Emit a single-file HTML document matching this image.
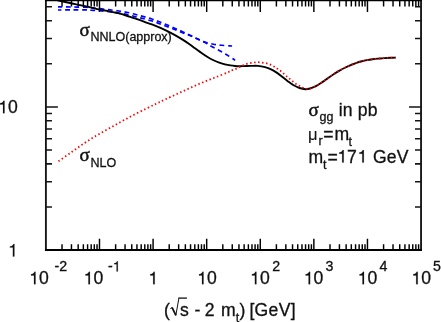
<!DOCTYPE html>
<html><head><meta charset="utf-8"><style>
html,body{margin:0;padding:0;background:#fff;}
#txt{filter:grayscale(1);}
svg{display:block;font-family:"Liberation Sans",sans-serif;fill:#111;}
text{stroke:#111;stroke-width:0.3px;}
</style></head><body>
<svg width="441" height="322" viewBox="0 0 441 322">
<rect width="441" height="322" fill="#fff"/>
<path d="M45.9 -0.7V251.0M421.05 -0.7V251.0" fill="none" stroke="#141414" stroke-width="1.85"/>
<path d="M44.98 0.3H421.97M44.98 250.0H421.97" fill="none" stroke="#000" stroke-width="1.95"/>
<path d="M62.03 250.0v-5.8M62.03 0.3v6.2 M71.47 250.0v-5.8M71.47 0.3v6.2 M78.17 250.0v-5.8M78.17 0.3v6.2 M83.36 250.0v-5.8M83.36 0.3v6.2 M87.60 250.0v-5.8M87.60 0.3v6.2 M91.19 250.0v-5.8M91.19 0.3v6.2 M94.30 250.0v-5.8M94.30 0.3v6.2 M97.04 250.0v-5.8M97.04 0.3v6.2 M99.49 250.0v-11.3M99.49 0.3v11.8 M115.63 250.0v-5.8M115.63 0.3v6.2 M125.06 250.0v-5.8M125.06 0.3v6.2 M131.76 250.0v-5.8M131.76 0.3v6.2 M136.95 250.0v-5.8M136.95 0.3v6.2 M141.20 250.0v-5.8M141.20 0.3v6.2 M144.78 250.0v-5.8M144.78 0.3v6.2 M147.89 250.0v-5.8M147.89 0.3v6.2 M150.63 250.0v-5.8M150.63 0.3v6.2 M153.09 250.0v-11.3M153.09 0.3v11.8 M169.22 250.0v-5.8M169.22 0.3v6.2 M178.66 250.0v-5.8M178.66 0.3v6.2 M185.35 250.0v-5.8M185.35 0.3v6.2 M190.55 250.0v-5.8M190.55 0.3v6.2 M194.79 250.0v-5.8M194.79 0.3v6.2 M198.38 250.0v-5.8M198.38 0.3v6.2 M201.48 250.0v-5.8M201.48 0.3v6.2 M204.23 250.0v-5.8M204.23 0.3v6.2 M206.68 250.0v-11.3M206.68 0.3v11.8 M222.81 250.0v-5.8M222.81 0.3v6.2 M232.25 250.0v-5.8M232.25 0.3v6.2 M238.94 250.0v-5.8M238.94 0.3v6.2 M244.14 250.0v-5.8M244.14 0.3v6.2 M248.38 250.0v-5.8M248.38 0.3v6.2 M251.97 250.0v-5.8M251.97 0.3v6.2 M255.08 250.0v-5.8M255.08 0.3v6.2 M257.82 250.0v-5.8M257.82 0.3v6.2 M260.27 250.0v-11.3M260.27 0.3v11.8 M276.40 250.0v-5.8M276.40 0.3v6.2 M285.84 250.0v-5.8M285.84 0.3v6.2 M292.54 250.0v-5.8M292.54 0.3v6.2 M297.73 250.0v-5.8M297.73 0.3v6.2 M301.97 250.0v-5.8M301.97 0.3v6.2 M305.56 250.0v-5.8M305.56 0.3v6.2 M308.67 250.0v-5.8M308.67 0.3v6.2 M311.41 250.0v-5.8M311.41 0.3v6.2 M313.86 250.0v-11.3M313.86 0.3v11.8 M330.00 250.0v-5.8M330.00 0.3v6.2 M339.43 250.0v-5.8M339.43 0.3v6.2 M346.13 250.0v-5.8M346.13 0.3v6.2 M351.32 250.0v-5.8M351.32 0.3v6.2 M355.57 250.0v-5.8M355.57 0.3v6.2 M359.16 250.0v-5.8M359.16 0.3v6.2 M362.26 250.0v-5.8M362.26 0.3v6.2 M365.00 250.0v-5.8M365.00 0.3v6.2 M367.46 250.0v-11.3M367.46 0.3v11.8 M383.59 250.0v-5.8M383.59 0.3v6.2 M393.03 250.0v-5.8M393.03 0.3v6.2 M399.72 250.0v-5.8M399.72 0.3v6.2 M404.92 250.0v-5.8M404.92 0.3v6.2 M409.16 250.0v-5.8M409.16 0.3v6.2 M412.75 250.0v-5.8M412.75 0.3v6.2 M415.86 250.0v-5.8M415.86 0.3v6.2 M418.60 250.0v-5.8M418.60 0.3v6.2" stroke="#000" stroke-width="1.45" fill="none"/>
<path d="M45.9 206.99h6.05M421.05 206.99h-6.05 M45.9 181.78h6.05M421.05 181.78h-6.05 M45.9 163.89h6.05M421.05 163.89h-6.05 M45.9 150.01h6.05M421.05 150.01h-6.05 M45.9 138.67h6.05M421.05 138.67h-6.05 M45.9 129.08h6.05M421.05 129.08h-6.05 M45.9 120.78h6.05M421.05 120.78h-6.05 M45.9 113.45h6.05M421.05 113.45h-6.05 M45.9 106.90h12M421.05 106.90h-12 M45.9 63.79h6.05M421.05 63.79h-6.05 M45.9 38.58h6.05M421.05 38.58h-6.05 M45.9 20.69h6.05M421.05 20.69h-6.05 M45.9 6.81h6.05M421.05 6.81h-6.05" stroke="#141414" stroke-width="1.55" fill="none"/>
<path d="M58.00 6.90C60.33 6.92 67.33 6.93 72.00 7.00C76.67 7.07 82.43 7.13 86.00 7.30C89.57 7.47 90.77 7.73 93.40 8.00C96.03 8.27 99.03 8.58 101.80 8.90C104.57 9.22 107.17 9.55 110.00 9.90C112.83 10.25 116.05 10.62 118.80 11.00C121.55 11.38 123.80 11.65 126.50 12.20C129.20 12.75 132.28 13.60 135.00 14.30C137.72 15.00 140.10 15.65 142.80 16.40C145.50 17.15 148.55 17.95 151.20 18.80C153.85 19.65 156.20 20.55 158.70 21.50C161.20 22.45 163.63 23.43 166.20 24.50C168.77 25.57 171.47 26.75 174.10 27.90C176.73 29.05 179.35 30.18 182.00 31.40C184.65 32.62 187.43 33.97 190.00 35.20C192.57 36.43 194.95 37.67 197.40 38.80C199.85 39.93 202.02 41.10 204.70 42.00C207.38 42.90 210.70 43.65 213.50 44.20C216.30 44.75 218.78 45.02 221.50 45.30C224.22 45.58 228.03 45.78 229.80 45.90C231.57 46.02 231.72 45.98 232.10 46.00" stroke="#0000ff" stroke-width="1.65" fill="none" stroke-dasharray="4.8 3.62" stroke-dashoffset="0.5"/>
<path d="M58.00 10.00C60.33 9.98 67.33 9.92 72.00 9.90C76.67 9.88 82.43 9.82 86.00 9.90C89.57 9.98 90.77 10.23 93.40 10.40C96.03 10.57 99.03 10.67 101.80 10.90C104.57 11.13 107.17 11.42 110.00 11.80C112.83 12.18 116.05 12.77 118.80 13.20C121.55 13.63 123.80 13.83 126.50 14.40C129.20 14.97 132.28 15.92 135.00 16.60C137.72 17.28 140.10 17.80 142.80 18.50C145.50 19.20 148.55 19.98 151.20 20.80C153.85 21.62 156.20 22.50 158.70 23.40C161.20 24.30 163.63 25.23 166.20 26.20C168.77 27.17 171.47 28.15 174.10 29.20C176.73 30.25 179.35 31.43 182.00 32.50C184.65 33.57 187.43 34.52 190.00 35.60C192.57 36.68 194.95 37.88 197.40 39.00C199.85 40.12 202.40 41.10 204.70 42.30C207.00 43.50 208.85 44.87 211.20 46.20C213.55 47.53 216.35 48.95 218.80 50.30C221.25 51.65 223.53 52.88 225.90 54.30C228.27 55.72 231.47 57.78 233.00 58.80C234.53 59.82 234.75 60.13 235.10 60.40" stroke="#0000ff" stroke-width="1.65" fill="none" stroke-dasharray="4.8 3.62" stroke-dashoffset="1.3"/>
<path d="M57.50 0.40C59.58 0.83 65.42 2.05 70.00 3.00C74.58 3.95 80.95 5.20 85.00 6.10C89.05 7.00 91.20 7.70 94.30 8.40C97.40 9.10 100.48 9.68 103.60 10.30C106.72 10.92 110.27 11.55 113.00 12.10C115.73 12.65 117.28 12.85 120.00 13.60C122.72 14.35 126.20 15.58 129.30 16.60C132.40 17.62 135.48 18.60 138.60 19.70C141.72 20.80 145.27 22.22 148.00 23.20C150.73 24.18 152.28 24.53 155.00 25.60C157.72 26.67 161.20 28.13 164.30 29.60C167.40 31.07 170.48 32.68 173.60 34.40C176.72 36.12 180.35 38.27 183.00 39.90C185.65 41.53 187.50 42.80 189.50 44.20C191.50 45.60 193.25 47.02 195.00 48.30C196.75 49.58 198.03 50.53 200.00 51.90C201.97 53.27 204.63 55.15 206.80 56.50C208.97 57.85 211.03 59.02 213.00 60.00C214.97 60.98 216.60 61.68 218.60 62.40C220.60 63.12 223.03 63.80 225.00 64.30C226.97 64.80 228.73 65.12 230.40 65.40C232.07 65.68 233.43 65.87 235.00 66.00C236.57 66.13 238.30 66.18 239.80 66.20C241.30 66.22 242.13 66.15 244.00 66.10C245.87 66.05 248.67 65.93 251.00 65.90C253.33 65.87 255.67 65.70 258.00 65.90C260.33 66.10 263.00 66.60 265.00 67.10C267.00 67.60 268.18 68.07 270.00 68.90C271.82 69.73 273.93 70.83 275.90 72.10C277.87 73.37 279.83 74.98 281.80 76.50C283.77 78.02 285.73 79.73 287.70 81.20C289.67 82.67 291.63 84.17 293.60 85.30C295.57 86.43 297.53 87.35 299.50 88.00C301.47 88.65 303.65 89.12 305.40 89.20C307.15 89.28 308.25 89.00 310.00 88.50C311.75 88.00 313.93 87.20 315.90 86.20C317.87 85.20 319.83 83.80 321.80 82.50C323.77 81.20 325.73 79.77 327.70 78.40C329.67 77.03 331.63 75.60 333.60 74.30C335.57 73.00 337.53 71.73 339.50 70.60C341.47 69.47 343.43 68.47 345.40 67.50C347.37 66.53 349.33 65.62 351.30 64.80C353.27 63.98 355.60 63.15 357.20 62.60C358.80 62.05 359.30 61.92 360.90 61.50C362.50 61.08 364.83 60.48 366.80 60.10C368.77 59.72 370.73 59.45 372.70 59.20C374.67 58.95 376.63 58.78 378.60 58.60C380.57 58.42 382.53 58.23 384.50 58.10C386.47 57.97 388.53 57.88 390.40 57.80C392.27 57.72 394.82 57.63 395.70 57.60" stroke="#000" stroke-width="1.9" fill="none"/>
<path d="M58.50 161.25C60.58 159.79 66.83 155.42 71.00 152.50C75.17 149.58 79.33 146.54 83.50 143.75C87.67 140.96 91.83 138.25 96.00 135.75C100.17 133.25 104.33 131.08 108.50 128.75C112.67 126.42 116.83 124.04 121.00 121.75C125.17 119.46 129.33 117.17 133.50 115.00C137.67 112.83 142.21 110.62 146.00 108.75C149.79 106.88 153.08 105.29 156.25 103.75C159.42 102.21 161.46 101.17 165.00 99.50C168.54 97.83 173.33 95.67 177.50 93.75C181.67 91.83 185.83 89.88 190.00 88.00C194.17 86.12 198.33 84.25 202.50 82.50C206.67 80.75 210.83 79.17 215.00 77.50C219.17 75.83 224.65 73.70 227.50 72.50C230.35 71.30 230.70 70.90 232.10 70.30C233.50 69.70 234.62 69.48 235.90 68.90C237.18 68.32 238.52 67.45 239.80 66.80C241.08 66.15 242.32 65.52 243.60 65.00C244.88 64.48 246.15 64.05 247.50 63.70C248.85 63.35 250.30 63.13 251.70 62.90C253.10 62.67 254.55 62.40 255.90 62.30C257.25 62.20 258.45 62.20 259.80 62.30C261.15 62.40 262.63 62.67 264.00 62.90C265.37 63.13 266.70 63.30 268.00 63.70C269.30 64.10 270.58 64.70 271.80 65.30C273.02 65.90 274.13 66.57 275.30 67.30C276.47 68.03 277.67 68.90 278.80 69.70C279.93 70.50 281.02 71.20 282.10 72.10C283.18 73.00 284.22 74.13 285.30 75.10C286.38 76.07 287.52 76.98 288.60 77.90C289.68 78.82 290.73 79.72 291.80 80.60C292.87 81.48 293.88 82.40 295.00 83.20C296.12 84.00 297.32 84.70 298.50 85.40C299.68 86.10 300.85 86.87 302.10 87.40C303.35 87.93 304.68 88.42 306.00 88.60C307.32 88.78 308.35 88.90 310.00 88.50C311.65 88.10 313.93 87.20 315.90 86.20C317.87 85.20 319.83 83.80 321.80 82.50C323.77 81.20 325.73 79.77 327.70 78.40C329.67 77.03 331.63 75.60 333.60 74.30C335.57 73.00 337.53 71.73 339.50 70.60C341.47 69.47 343.43 68.47 345.40 67.50C347.37 66.53 349.33 65.62 351.30 64.80C353.27 63.98 355.60 63.15 357.20 62.60C358.80 62.05 359.30 61.92 360.90 61.50C362.50 61.08 364.83 60.48 366.80 60.10C368.77 59.72 370.73 59.45 372.70 59.20C374.67 58.95 376.63 58.78 378.60 58.60C380.57 58.42 382.53 58.23 384.50 58.10C386.47 57.97 388.53 57.88 390.40 57.80C392.27 57.72 394.82 57.63 395.70 57.60" stroke="#ff0000" stroke-width="1.75" fill="none" stroke-dasharray="1.5 2.5"/>
<g id="txt">
<text x="79.5" y="35.6" font-size="19" text-anchor="start" font-family="Liberation Serif" style="stroke-width:0.5px">σ</text>
<text x="90.5" y="41.35" font-size="12.5" text-anchor="start">NNLO(approx)</text>
<text x="79.5" y="160.7" font-size="19" text-anchor="start" font-family="Liberation Serif" style="stroke-width:0.5px">σ</text>
<text x="90.4" y="166.5" font-size="12.5" text-anchor="start" letter-spacing="0.05">NLO</text>
<text x="308.6" y="116.2" font-size="19" text-anchor="start" font-family="Liberation Serif" style="stroke-width:0.5px">σ</text>
<text x="319.5" y="121.2" font-size="12.5" text-anchor="start">gg</text>
<text x="338.8" y="116.2" font-size="17.6" text-anchor="start" letter-spacing="0.15">in pb</text>
<text x="308.0" y="140" font-size="16.6" text-anchor="start" style="stroke-width:0.1px">μ</text>
<text x="318.6" y="145.3" font-size="12.5" text-anchor="start">r</text>
<text x="323.3" y="140" font-size="17.6" text-anchor="start">=</text>
<text x="334.5" y="140" font-size="17.6" text-anchor="start">m</text>
<text x="348.6" y="145.8" font-size="12.5" text-anchor="start">t</text>
<text x="308.5" y="162.6" font-size="17.6" text-anchor="start">m</text>
<text x="322.9" y="168.6" font-size="12.5" text-anchor="start">t</text>
<text x="327.4" y="162.6" font-size="17.6" text-anchor="start">=</text>
<path transform="translate(337.40 162.6) scale(0.01760 -0.01760)" d="M271 0V505H101V568C200 575 270 610 302 709H359V0Z" fill="#111" stroke="#111" stroke-width="8.5"/>
<text x="347.1" y="162.6" font-size="17.6" text-anchor="start">7</text>
<path transform="translate(357.50 162.6) scale(0.01760 -0.01760)" d="M271 0V505H101V568C200 575 270 610 302 709H359V0Z" fill="#111" stroke="#111" stroke-width="8.5"/>
<text x="372.9" y="162.6" font-size="17.6" text-anchor="start" letter-spacing="0.2">GeV</text>
<path transform="translate(-1.78 113.3) scale(0.01760 -0.01760)" d="M271 0V505H101V568C200 575 270 610 302 709H359V0Z" fill="#111" stroke="#111" stroke-width="8.5"/><text x="8.01" y="113.3" font-size="17.6" text-anchor="start">0</text>
<path transform="translate(8.10 256.5) scale(0.01760 -0.01760)" d="M271 0V505H101V568C200 575 270 610 302 709H359V0Z" fill="#111" stroke="#111" stroke-width="8.5"/>
<path transform="translate(29.21 284.3) scale(0.01760 -0.01760)" d="M271 0V505H101V568C200 575 270 610 302 709H359V0Z" fill="#111" stroke="#111" stroke-width="8.5"/><text x="39.0" y="284.3" font-size="17.6" text-anchor="start">0</text><text x="54.5" y="271.4" font-size="14.2" text-anchor="start">-2</text>
<path transform="translate(83.61 284.3) scale(0.01760 -0.01760)" d="M271 0V505H101V568C200 575 270 610 302 709H359V0Z" fill="#111" stroke="#111" stroke-width="8.5"/><text x="93.4" y="284.3" font-size="17.6" text-anchor="start">0</text><text x="108" y="271.4" font-size="14.2" text-anchor="start">-</text><path transform="translate(112.73 271.4) scale(0.01420 -0.01420)" d="M271 0V505H101V568C200 575 270 610 302 709H359V0Z" fill="#111" stroke="#111" stroke-width="10.6"/>
<path transform="translate(148.40 284.3) scale(0.01760 -0.01760)" d="M271 0V505H101V568C200 575 270 610 302 709H359V0Z" fill="#111" stroke="#111" stroke-width="8.5"/>
<path transform="translate(197.21 284.3) scale(0.01760 -0.01760)" d="M271 0V505H101V568C200 575 270 610 302 709H359V0Z" fill="#111" stroke="#111" stroke-width="8.5"/><text x="207.0" y="284.3" font-size="17.6" text-anchor="start">0</text>
<path transform="translate(250.11 284.3) scale(0.01760 -0.01760)" d="M271 0V505H101V568C200 575 270 610 302 709H359V0Z" fill="#111" stroke="#111" stroke-width="8.5"/><text x="259.9" y="284.3" font-size="17.6" text-anchor="start">0</text><text x="272.3" y="271.4" font-size="14.2" text-anchor="start">2</text>
<path transform="translate(303.81 284.3) scale(0.01760 -0.01760)" d="M271 0V505H101V568C200 575 270 610 302 709H359V0Z" fill="#111" stroke="#111" stroke-width="8.5"/><text x="313.6" y="284.3" font-size="17.6" text-anchor="start">0</text><text x="325.4" y="271.4" font-size="14.2" text-anchor="start">3</text>
<path transform="translate(357.71 284.3) scale(0.01760 -0.01760)" d="M271 0V505H101V568C200 575 270 610 302 709H359V0Z" fill="#111" stroke="#111" stroke-width="8.5"/><text x="367.5" y="284.3" font-size="17.6" text-anchor="start">0</text><text x="379.5" y="271.4" font-size="14.2" text-anchor="start">4</text>
<path transform="translate(411.41 284.3) scale(0.01760 -0.01760)" d="M271 0V505H101V568C200 575 270 610 302 709H359V0Z" fill="#111" stroke="#111" stroke-width="8.5"/><text x="421.2" y="284.3" font-size="17.6" text-anchor="start">0</text><text x="433" y="271.4" font-size="14.2" text-anchor="start">5</text>
<text x="164.0" y="315.6" font-size="17.6" text-anchor="start">(</text>
<path d="M170.3 308.7l1.7-1.1" stroke="#111" stroke-width="1" fill="none"/><path d="M172 307.4l3.9 7.9" stroke="#111" stroke-width="1.8" fill="none"/><path d="M175.8 315.6l3.1-17.4" stroke="#111" stroke-width="1" fill="none"/><path d="M178.3 298.1h8.6" stroke="#111" stroke-width="1.3" fill="none"/>
<text x="179.9" y="315.6" font-size="17.6" text-anchor="start">s</text>
<text x="194.4" y="315.6" font-size="17.6" text-anchor="start">-</text>
<text x="204.8" y="315.6" font-size="17.6" text-anchor="start">2</text>
<text x="221.0" y="315.6" font-size="17.6" text-anchor="start">m</text>
<text x="235.8" y="321.6" font-size="12.5" text-anchor="start">t</text>
<text x="239.4" y="315.6" font-size="17.6" text-anchor="start">)</text>
<text x="249.4" y="315.6" font-size="17.6" text-anchor="start" letter-spacing="0.3">[GeV]</text>
</g>
</svg>
</body></html>
